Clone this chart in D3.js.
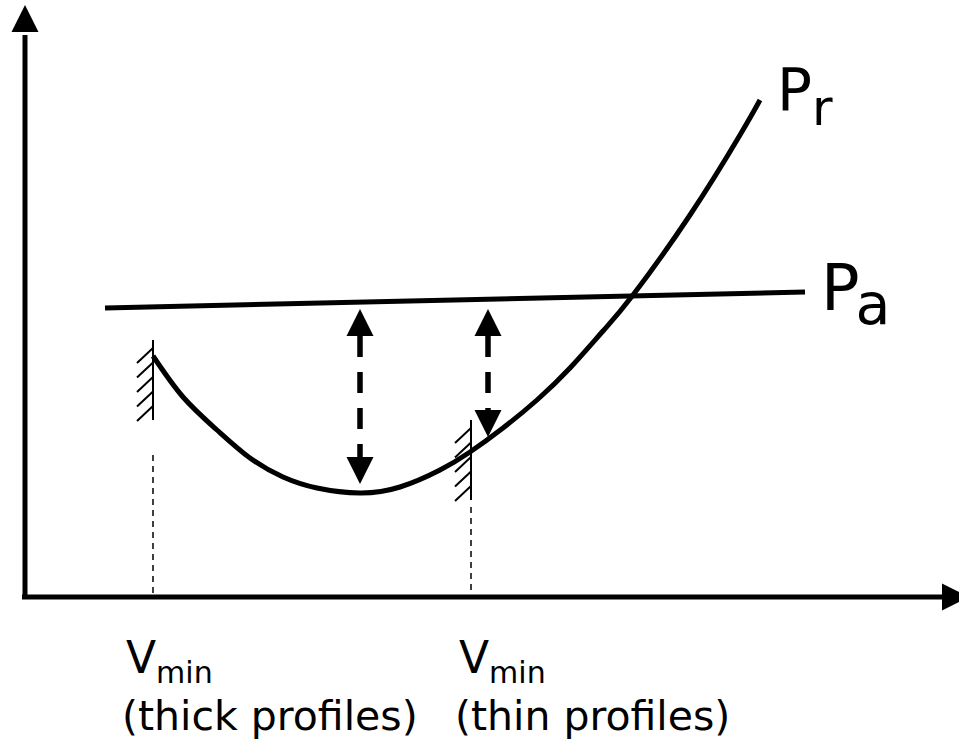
<!DOCTYPE html>
<html><head><meta charset="utf-8">
<script src="https://cdn.jsdelivr.net/npm/d3@7"></script>
<style>html,body{margin:0;padding:0;background:#fff;}svg{display:block;}</style>
</head><body>
<script>
// ---- data (abstract units: V along x, P along y, origin at the axes) ----
const prV = [128,158,192,225,258,292,335,375,415,445,478,512,545,578,608,665,715,735];
const prP = [241,200,167,139,120,109,104,110,127,145,169,197,229,266,302,382,462,497];
const paV = [80, 780];
const paP = [289, 305];
const vminV = [128, 446];             // V_min positions (thick, thin)
const stopTop = [257, 177];           // hatch (stop) top
const stopBottom = [177, 97];         // hatch (stop) bottom
const guideTop = [142, 90];           // dashed guide start
const gapV = [335, 463];              // dashed double arrows
const gapTop = [288, 288];
const gapBottom = [113, 160];
const vminLabels = ["(thick profiles)", "(thin profiles)"];

const W = 959, H = 740;
const x = d3.scaleLinear().domain([0, 934]).range([25, 959]);
const y = d3.scaleLinear().domain([0, 592]).range([597, 5]);

const svg = d3.select("body").append("svg").attr("width", W).attr("height", H);
const g = svg.append("g");

// axes
g.append("line").attr("x1", x(0)).attr("x2", x(0)).attr("y1", y(-2)).attr("y2", y(562))
  .attr("stroke", "#000").attr("stroke-width", 5);
g.append("line").attr("x1", x(-3)).attr("x2", x(918)).attr("y1", y(0)).attr("y2", y(0))
  .attr("stroke", "#000").attr("stroke-width", 5);
function head(tx, ty, dir, len, half) {
  let p;
  if (dir === "up") p = [[tx, ty], [tx - half, ty + len], [tx + half, ty + len]];
  else if (dir === "down") p = [[tx, ty], [tx - half, ty - len], [tx + half, ty - len]];
  else p = [[tx, ty], [tx - len, ty - half], [tx - len, ty + half]];
  g.append("path").attr("d", "M" + p.map(q => q.join(",")).join("L") + "Z").attr("fill", "#000");
}
head(x(0), y(592), "up", 27, 13.5);
head(x(944), y(0), "right", 27, 13.5);

// Pa line
g.append("line").attr("x1", x(paV[0])).attr("y1", y(paP[0])).attr("x2", x(paV[1])).attr("y2", y(paP[1]))
  .attr("stroke", "#000").attr("stroke-width", 5);

// Pr curve
const line = d3.line().x(d => x(d[0])).y(d => y(d[1])).curve(d3.curveNatural);
g.append("path").attr("d", line(prV.map((v, i) => [v, prP[i]])))
  .attr("fill", "none").attr("stroke", "#000").attr("stroke-width", 5);

// stops with hatching and dashed guides
vminV.forEach((v, i) => {
  const px = x(v);
  const t = y(stopTop[i]), b = y(stopBottom[i]);
  g.append("line").attr("x1", px).attr("x2", px).attr("y1", t).attr("y2", b)
    .attr("stroke", "#000").attr("stroke-width", 2);
  const n = 5, h0 = t + 8, h1 = b - 14;
  for (let k = 0; k < n; k++) {
    const hy = h0 + (h1 - h0) * k / (n - 1);
    g.append("line").attr("x1", px).attr("y1", hy).attr("x2", px - 16).attr("y2", hy + 15)
      .attr("stroke", "#000").attr("stroke-width", 2);
  }
  g.append("line").attr("x1", px).attr("x2", px).attr("y1", y(guideTop[i])).attr("y2", y(0))
    .attr("stroke", "#000").attr("stroke-width", 1.5).attr("stroke-dasharray", "6,5");
});

// dashed double arrows
gapV.forEach((v, i) => {
  const px = x(v), t = y(gapTop[i]), b = y(gapBottom[i]);
  head(px, t, "up", 27, 13.5);
  head(px, b, "down", 27, 13.5);
  g.append("line").attr("x1", px).attr("x2", px).attr("y1", t + 27).attr("y2", b - 27)
    .attr("stroke", "#000").attr("stroke-width", 5.5).attr("stroke-dasharray", "21,15");
});

// labels
const font = "'DejaVu Sans', Verdana, sans-serif";
const pr = g.append("text").attr("x", 777).attr("y", 110).attr("font-family", font).attr("font-size", 58);
pr.append("tspan").text("P");
pr.append("tspan").attr("dy", 15).attr("font-size", 50).text("r");
const pa = g.append("text").attr("x", 821).attr("y", 310).attr("font-family", font).attr("font-size", 64);
pa.append("tspan").text("P");
pa.append("tspan").attr("dy", 14).attr("dx", -4).attr("font-size", 57).text("a");

const lx = [126, 459];
vminV.forEach((v, i) => {
  const t = g.append("text").attr("x", lx[i]).attr("y", 673).attr("font-family", font).attr("font-size", 44);
  t.append("tspan").text("V");
  t.append("tspan").attr("dy", 10).attr("font-size", 30).text("min");
  g.append("text").attr("x", lx[i] - 4).attr("y", 730).attr("font-family", font).attr("font-size", 41)
    .text(vminLabels[i]);
});
</script>
</body></html>
